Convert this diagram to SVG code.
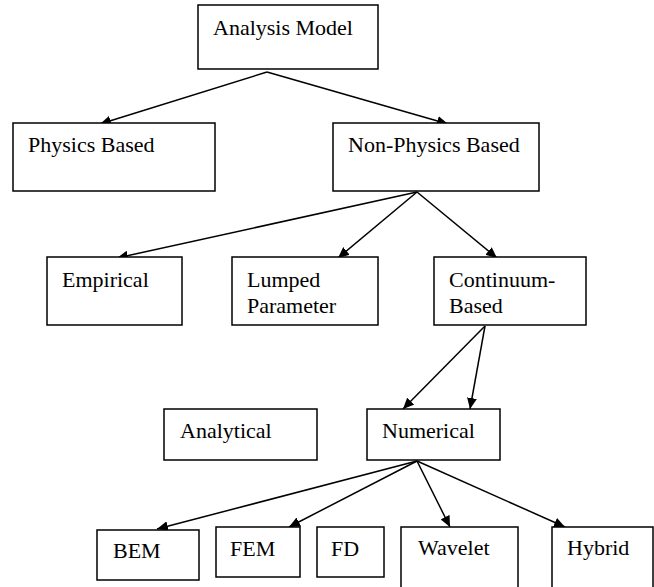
<svg xmlns="http://www.w3.org/2000/svg" width="654" height="587" viewBox="0 0 654 587">
<style>
.box{fill:#fff;stroke:#000;stroke-width:1.5}
.lbl{font-family:'Liberation Serif','Times New Roman',serif;font-size:22px;fill:#000}
.edge{stroke:#000;stroke-width:1.5;fill:none;marker-end:url(#ah)}
</style>
<defs>
<marker id="ah" markerUnits="userSpaceOnUse" markerWidth="12" markerHeight="10" refX="11" refY="5" orient="auto">
<path d="M0,0 L11,5 L0,10 z" fill="#000"/>
</marker>
</defs>
<rect width="654" height="587" fill="#fff"/>
<g id="connectors">
<line class="edge" x1="267" y1="72" x2="100" y2="124"/>
<line class="edge" x1="267" y1="72" x2="448" y2="124"/>
<line class="edge" x1="417" y1="192" x2="117" y2="258"/>
<line class="edge" x1="417" y1="192" x2="338" y2="258"/>
<line class="edge" x1="417" y1="192" x2="497" y2="258"/>
<line class="edge" x1="485" y1="326" x2="403" y2="409"/>
<line class="edge" x1="485" y1="326" x2="470" y2="409"/>
<line class="edge" x1="417" y1="461" x2="157" y2="529"/>
<line class="edge" x1="417" y1="461" x2="289" y2="527"/>
<line class="edge" x1="417" y1="461" x2="450" y2="527"/>
<line class="edge" x1="417" y1="461" x2="565" y2="527"/>
</g>
<g font-family="Liberation Serif, Times New Roman, serif" font-size="22">
<g id="analysis-model"><rect class="box" x="198" y="5" width="180" height="64"/><text class="lbl" x="213" y="35">Analysis Model</text></g>
<g id="physics-based"><rect class="box" x="13" y="123" width="202" height="68"/><text class="lbl" x="28" y="152">Physics Based</text></g>
<g id="non-physics-based"><rect class="box" x="333" y="123" width="206" height="68"/><text class="lbl" x="348" y="152">Non-Physics Based</text></g>
<g id="empirical"><rect class="box" x="47" y="257" width="135" height="68"/><text class="lbl" x="62" y="287">Empirical</text></g>
<g id="lumped-parameter"><rect class="box" x="232" y="257" width="146" height="68"/><text class="lbl" x="247" y="287">Lumped</text><text class="lbl" x="247" y="313">Parameter</text></g>
<g id="continuum-based"><rect class="box" x="434" y="257" width="152" height="68"/><text class="lbl" x="449" y="287">Continuum-</text><text class="lbl" x="449" y="313">Based</text></g>
<g id="analytical"><rect class="box" x="164" y="409" width="153" height="51"/><text class="lbl" x="180" y="438">Analytical</text></g>
<g id="numerical"><rect class="box" x="367" y="409" width="133" height="51"/><text class="lbl" x="382" y="438">Numerical</text></g>
<g id="bem"><rect class="box" x="97" y="530" width="102" height="50"/><text class="lbl" x="113" y="558">BEM</text></g>
<g id="fem"><rect class="box" x="216" y="527" width="84" height="50"/><text class="lbl" x="230" y="556">FEM</text></g>
<g id="fd"><rect class="box" x="317" y="527" width="67" height="50"/><text class="lbl" x="331" y="556">FD</text></g>
<g id="wavelet"><rect class="box" x="401" y="527" width="117" height="80"/><text class="lbl" x="418" y="555">Wavelet</text></g>
<g id="hybrid"><rect class="box" x="552" y="527" width="101" height="80"/><text class="lbl" x="567" y="555">Hybrid</text></g>
</g>
</svg>
